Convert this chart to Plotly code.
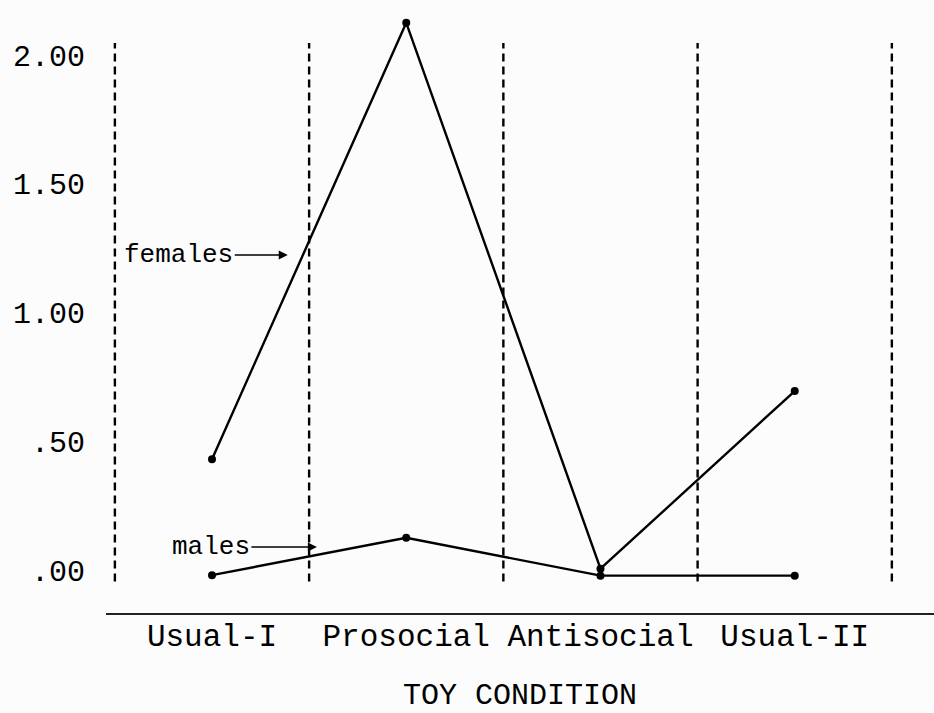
import plotly.graph_objects as go

categories = ["Usual-I", "Prosocial", "Antisocial", "Usual-II"]
females = [0.43, 2.125, 0.005, 0.695]
males = [-0.02, 0.125, -0.022, -0.022]
ytick_vals = [0.0, 0.5, 1.0, 1.5, 2.0]
ytick_text = [".00", ".50", "1.00", "1.50", "2.00"]
x_title = "TOY CONDITION"

FONT = "Liberation Mono, DejaVu Sans Mono, monospace"
xs = list(range(len(categories)))

fig = go.Figure()
for vals in (females, males):
    fig.add_trace(go.Scatter(
        x=xs, y=vals, mode="lines+markers",
        line=dict(color="black", width=2.4),
        marker=dict(color="black", size=8),
        showlegend=False, hoverinfo="skip"))

# dashed category boundaries
for i in range(len(categories) + 1):
    fig.add_shape(type="line", xref="x", yref="y",
                  x0=i - 0.5, x1=i - 0.5, y0=-0.045, y1=2.047,
                  line=dict(color="black", width=2.4, dash="8px,5px"))

fig.add_annotation(x=0.39, y=1.223, xref="x", yref="y", text="females",
                   showarrow=True, ax=-109, ay=0, arrowhead=2, arrowsize=1.2,
                   arrowwidth=1.5, arrowcolor="black",
                   font=dict(family=FONT, size=26, color="black"))
fig.add_annotation(x=0.54, y=0.089, xref="x", yref="y", text="males",
                   showarrow=True, ax=-106, ay=0, arrowhead=2, arrowsize=1.2,
                   arrowwidth=1.5, arrowcolor="black",
                   font=dict(family=FONT, size=26, color="black"))

fig.update_layout(
    width=934, height=713,
    margin=dict(l=106, r=0, t=0, b=100),
    paper_bgcolor="#fcfcfc", plot_bgcolor="#fcfcfc",
    font=dict(family=FONT, color="black", size=30),
    xaxis=dict(range=[-0.5457, 3.717], tickvals=xs, ticktext=categories,
               showgrid=False, zeroline=False, showline=True, automargin=False,
               linecolor="#222", linewidth=2, ticks="",
               tickfont=dict(size=31), ticklabelstandoff=-6,
               title=dict(text=x_title, font=dict(size=30), standoff=40)),
    yaxis=dict(range=[-0.167, 2.2136], tickvals=ytick_vals, ticktext=ytick_text,
               showgrid=False, zeroline=False, showline=False, ticks="",
               automargin=False,
               tickfont=dict(size=30), ticklabelstandoff=20),
)

fig.write_html("out.html")
